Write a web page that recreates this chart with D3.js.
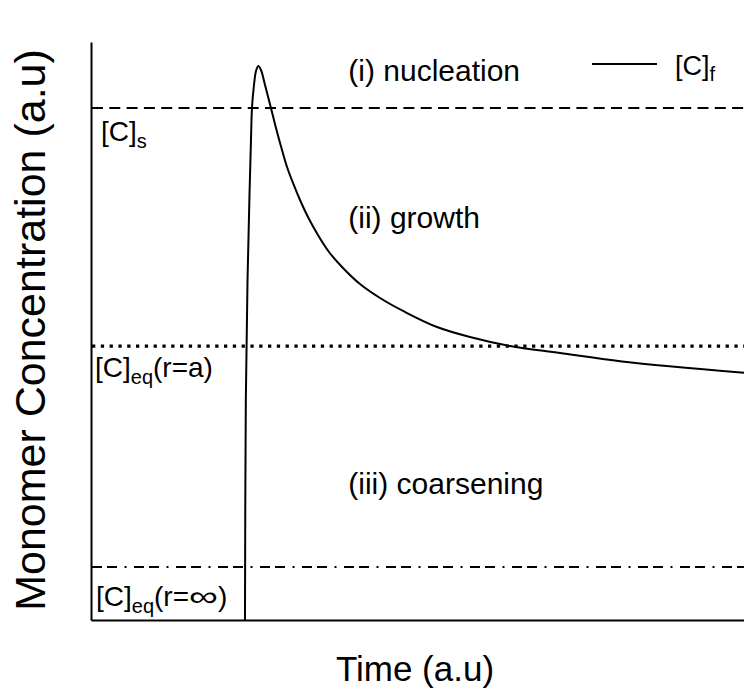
<!DOCTYPE html>
<html>
<head>
<meta charset="utf-8">
<script src="https://cdn.jsdelivr.net/npm/d3@7"></script>
<style>
  html, body { margin: 0; padding: 0; background: #fff; }
  text { font-family: "Liberation Sans", Arial, Helvetica, sans-serif; fill: #000; }
</style>
</head>
<body>
<svg id="chart" width="744" height="698"></svg>
<script>
// Monomer concentration [C]f over time (arbitrary units)
const timeValues = [23.58, 23.71, 23.97, 24.27, 24.5, 24.66, 24.96, 25.27, 25.62, 26.03, 26.65, 27.52, 28.33, 29.25, 30.02, 30.93, 32.01, 33.23, 34.76, 36.45, 38.59, 41.19, 44.26, 48.09, 52.99, 58.04, 64.17, 71.82, 81.32, 100];
const concValues = [0, 38.06, 58.82, 73.53, 83.04, 88.75, 92.56, 94.98, 95.85, 95.16, 92.56, 88.75, 85.12, 81.31, 78.37, 75.61, 72.66, 69.72, 66.61, 63.67, 60.9, 58.13, 55.71, 53.29, 50.69, 48.96, 47.4, 46.19, 44.72, 42.78];

// Reference concentration levels
const levelNames = ["supersaturation", "eqA", "eqInf"];
const levelValues = [88.6, 47.4, 9.15];

// Stage annotations
const stageLabels = ["(i) nucleation", "(ii) growth", "(iii) coarsening"];
const stageTimes = [39.4, 39.4, 39.4];
const stageConcs = [93.3, 67.8, 21.8];

const xTitle = "Time (a.u)";
const yTitle = "Monomer Concentration (a.u)";

const svg = d3.select("#chart");
const margin = { left: 91, right: 0, top: 42, bottom: 78 };
const W = 744, H = 698;

const x = d3.scaleLinear().domain([0, 100]).range([margin.left, W - margin.right]);
const y = d3.scaleLinear().domain([0, 100]).range([H - margin.bottom, margin.top]);

// axes (plain lines, no ticks)
svg.append("g")
  .attr("transform", `translate(0,${y(0)})`)
  .call(d3.axisBottom(x).tickValues([]).tickSizeOuter(0))
  .call(g => g.select(".domain").attr("stroke", "#000").attr("stroke-width", 2));
svg.append("g")
  .attr("transform", `translate(${x(0)},0)`)
  .call(d3.axisLeft(y).tickValues([]).tickSizeOuter(0))
  .call(g => g.select(".domain").attr("stroke", "#000").attr("stroke-width", 2));

// reference levels
const levelStyles = {
  supersaturation: { dash: "11,6.3", width: 2 },
  eqA: { dash: "3.3,5.5", width: 3.3 },
  eqInf: { dash: "10,5,10,7.5,2,7.5", width: 2 }
};
svg.append("g").selectAll("line")
  .data(levelNames.map((n, i) => ({ name: n, value: levelValues[i] })))
  .join("line")
  .attr("x1", x(0) + 1).attr("x2", x(100))
  .attr("y1", d => y(d.value)).attr("y2", d => y(d.value))
  .attr("stroke", "#000")
  .attr("stroke-width", d => levelStyles[d.name].width)
  .attr("stroke-dasharray", d => levelStyles[d.name].dash);

// concentration curve
const pts = timeValues.map((t, i) => [t, concValues[i]]);
const line = d3.line()
  .x(d => x(d[0])).y(d => y(d[1]))
  .curve(d3.curveCatmullRom.alpha(0.5));
svg.append("path")
  .datum(pts)
  .attr("d", line)
  .attr("fill", "none")
  .attr("stroke", "#000")
  .attr("stroke-width", 2)
  .attr("stroke-linejoin", "round");

// stage annotations
svg.append("g").selectAll("text")
  .data(stageLabels.map((s, i) => ({ s, t: stageTimes[i], c: stageConcs[i] })))
  .join("text")
  .attr("x", d => x(d.t)).attr("y", d => y(d.c))
  .attr("font-size", 30)
  .text(d => d.s);

// labels built from pieces: [text, font size, baseline shift, horizontal scale]
function pieceLabel(x0, y0, pieces) {
  const g = svg.append("g");
  let cx = x0;
  pieces.forEach(([txt, size, dy, sx]) => {
    const t = g.append("text")
      .attr("font-size", size)
      .attr("transform", `translate(${cx},${y0 + dy}) scale(${sx},1)`)
      .text(txt);
    cx += t.node().getComputedTextLength() * sx;
  });
  return g;
}
pieceLabel(101, 141, [["[C]", 28, 0, 1], ["s", 20, 7, 1]]);
pieceLabel(95, 377, [["[C]", 28, 0, 1], ["eq", 20, 7, 1], ["(r=a)", 28, 0, 1]]);
pieceLabel(96, 606, [["[C]", 28, 0, 1], ["eq", 20, 7, 1], ["(r=", 28, 0, 1], ["\u221e", 28, 0, 1.45], [")", 28, 0, 1]]);

// legend
svg.append("line")
  .attr("x1", 592).attr("x2", 657).attr("y1", 64).attr("y2", 64)
  .attr("stroke", "#000").attr("stroke-width", 2);
pieceLabel(675, 75, [["[C]", 27, 0, 1], ["f", 20, 6, 1]]);

// axis titles
svg.append("text")
  .attr("x", 415).attr("y", 681)
  .attr("text-anchor", "middle")
  .attr("font-size", 35)
  .text(xTitle);
svg.append("text")
  .attr("transform", `translate(45,330) rotate(-90)`)
  .attr("text-anchor", "middle")
  .attr("font-size", 43)
  .text(yTitle);
</script>
</body>
</html>
